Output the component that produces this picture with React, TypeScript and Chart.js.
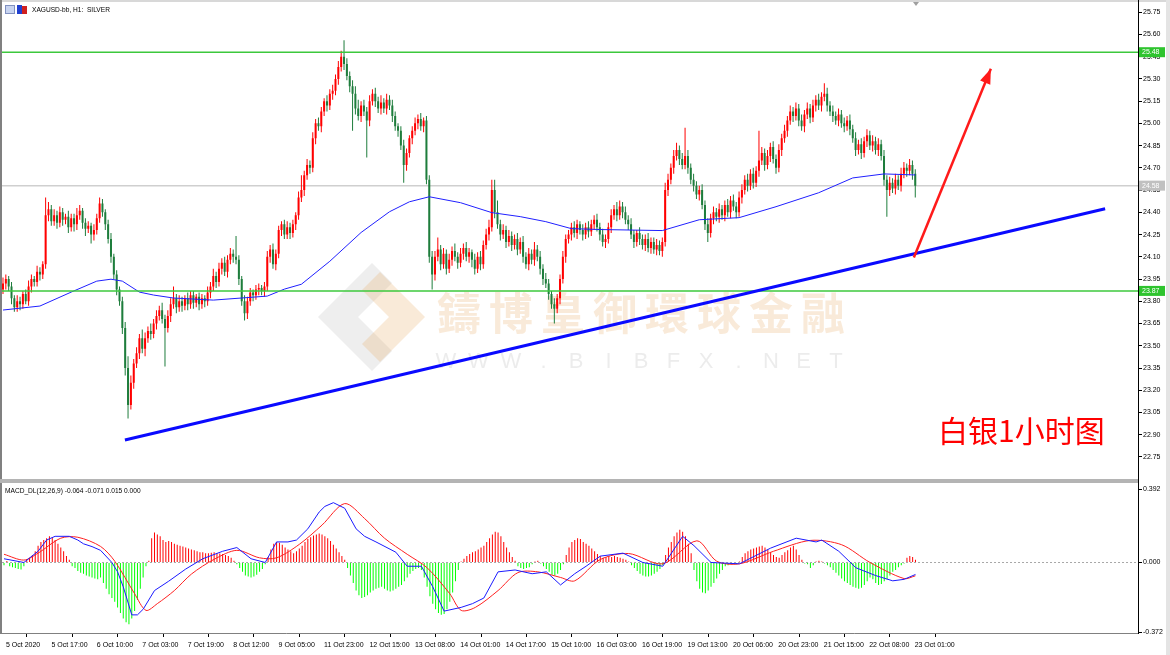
import React, { useEffect, useRef } from 'react';
import { Chart, registerables } from 'chart.js';

Chart.register(...registerables);

const FONT = '"Liberation Sans", Arial, sans-serif';

// ---------- axis ranges (bar index on x, price on y) ----------
const X_MIN = -0.7;
const X_MAX = 399.37;
const PRICE_MIN = 22.623;
const PRICE_MAX = 25.797;
const MACD_MIN = -0.377;
const MACD_MAX = 0.408;

// ---------- labels ----------
const priceTicks = [22.75, 22.9, 23.05, 23.2, 23.35, 23.5, 23.65, 23.8, 23.95, 24.1, 24.25, 24.4, 24.55, 24.7, 24.85, 25.0, 25.15, 25.3, 25.45, 25.6, 25.75];
const macdTicks = [0.392, 0, -0.372];
const timeTickBars = [0, 16, 32, 48, 64, 80, 96, 112, 128, 144, 160, 176, 192, 208, 224, 240, 256, 272, 288, 304, 320];
const timeLabels = ['5 Oct 2020', '5 Oct 17:00', '6 Oct 10:00', '7 Oct 03:00', '7 Oct 19:00', '8 Oct 12:00', '9 Oct 05:00', '11 Oct 23:00', '12 Oct 15:00', '13 Oct 08:00', '14 Oct 01:00', '14 Oct 17:00', '15 Oct 10:00', '16 Oct 03:00', '16 Oct 19:00', '19 Oct 13:00', '20 Oct 06:00', '20 Oct 23:00', '21 Oct 15:00', '22 Oct 08:00', '23 Oct 01:00'];

// ---------- price data (H1 candles) ----------
const FIRST_OPEN = 23.88;
const closes = [
  23.92, 23.95, 23.90, 23.82, 23.76, 23.80, 23.78, 23.85, 23.80, 23.90,
  23.95, 23.93, 24.00, 23.98, 24.05, 24.38, 24.42, 24.34, 24.38, 24.33,
  24.40, 24.35, 24.37, 24.30, 24.36, 24.32, 24.38, 24.41, 24.33, 24.29,
  24.31, 24.25, 24.28, 24.36, 24.46, 24.40, 24.32, 24.22, 24.10, 23.98,
  23.88, 23.80, 23.62, 23.35, 23.10, 23.25, 23.38, 23.45, 23.55, 23.48,
  23.55, 23.60, 23.58, 23.65, 23.70, 23.74, 23.68, 23.62, 23.70, 23.78,
  23.82, 23.76, 23.80, 23.77, 23.82, 23.78, 23.84, 23.79, 23.83, 23.78,
  23.82, 23.80, 23.86, 23.90, 23.97, 23.93, 24.02, 24.06, 24.00, 24.08,
  24.12, 24.10, 24.08, 23.95, 23.80, 23.72, 23.80, 23.86, 23.84, 23.88,
  23.89, 23.87, 23.90, 24.10, 24.15, 24.05, 24.12, 24.28, 24.32, 24.25,
  24.30, 24.26, 24.32, 24.38, 24.50, 24.55, 24.65, 24.72, 24.70, 24.90,
  25.00, 24.98, 25.08, 25.15, 25.12, 25.20, 25.22, 25.30, 25.38, 25.45,
  25.40, 25.32, 25.25, 25.20, 25.10, 25.05, 25.12, 25.08, 25.02, 25.15,
  25.20, 25.15, 25.10, 25.14, 25.10, 25.16, 25.12, 25.05, 24.98, 24.95,
  24.85, 24.72, 24.80, 24.90, 24.95, 25.00, 25.03, 24.98, 25.02, 24.62,
  24.10, 23.98, 24.10, 24.15, 24.05, 24.12, 24.02, 24.08, 24.14, 24.10,
  24.06, 24.12, 24.16, 24.10, 24.13, 24.08, 24.02, 24.10, 24.05, 24.18,
  24.25, 24.30, 24.55, 24.40, 24.32, 24.25, 24.28, 24.20, 24.24, 24.18,
  24.22, 24.15, 24.20, 24.10, 24.05, 24.12, 24.08, 24.15, 24.10, 24.02,
  23.95, 23.92, 23.85, 23.78, 23.75, 23.82, 23.95, 24.10, 24.22, 24.25,
  24.30, 24.26, 24.32, 24.28, 24.25, 24.30, 24.27, 24.32, 24.35, 24.30,
  24.25, 24.20, 24.22, 24.30, 24.38, 24.42, 24.38, 24.44, 24.40, 24.35,
  24.32, 24.25, 24.20, 24.26, 24.22, 24.18, 24.22, 24.16, 24.20, 24.15,
  24.18, 24.14, 24.20, 24.55, 24.62, 24.70, 24.78, 24.82, 24.76, 24.72,
  24.78, 24.70, 24.62, 24.58, 24.52, 24.55, 24.45, 24.32, 24.26, 24.36,
  24.40, 24.37, 24.42, 24.38, 24.45, 24.40, 24.48, 24.44, 24.40, 24.50,
  24.55, 24.62, 24.58, 24.66, 24.60, 24.68, 24.75, 24.80, 24.72, 24.78,
  24.84, 24.76, 24.70, 24.82, 24.90, 24.95, 25.02, 25.08, 25.05, 25.10,
  25.02, 24.98, 25.06, 25.10, 25.04, 25.12, 25.16, 25.12, 25.18, 25.20,
  25.12, 25.08, 25.05, 25.02, 25.06, 25.00, 24.98, 25.02, 24.96, 24.90,
  24.82, 24.86, 24.80, 24.88, 24.92, 24.85, 24.88, 24.82, 24.86, 24.78,
  24.62, 24.55, 24.60, 24.56, 24.62, 24.58, 24.66, 24.70, 24.68, 24.72,
  24.66, 24.58,
];
// wick lengths beyond the body, in cents
const upperWick = [
  4, 3, 2, 3, 2, 4, 3, 2, 3, 4, 3, 2, 4, 3, 2, 12, 5, 3, 4, 3,
  4, 3, 2, 4, 3, 3, 5, 4, 2, 3, 3, 2, 4, 3, 4, 3, 2, 3, 4, 2,
  3, 2, 3, 4, 8, 5, 3, 4, 3, 6, 4, 3, 5, 3, 4, 3, 5, 3, 4, 4,
  8, 3, 4, 3, 2, 4, 3, 3, 2, 3, 3, 2, 4, 3, 5, 3, 4, 3, 4, 3,
  4, 3, 14, 3, 2, 4, 3, 3, 2, 3, 3, 2, 3, 4, 3, 4, 3, 3, 2, 3,
  4, 3, 3, 2, 4, 10, 3, 4, 3, 4, 3, 4, 3, 2, 4, 3, 4, 3, 4, 4,
  11, 4, 3, 4, 5, 6, 3, 4, 3, 4, 3, 4, 3, 5, 3, 4, 3, 4, 3, 2,
  3, 4, 3, 2, 3, 4, 3, 4, 2, 3, 3, 4, 4, 8, 3, 4, 3, 4, 3, 5,
  3, 4, 3, 4, 3, 2, 4, 3, 4, 3, 4, 5, 7, 7, 8, 3, 4, 3, 4, 3,
  3, 4, 3, 4, 3, 4, 3, 5, 3, 4, 3, 4, 3, 2, 4, 3, 3, 4, 3, 3,
  3, 4, 3, 2, 4, 3, 4, 3, 3, 4, 3, 4, 3, 3, 4, 3, 5, 4, 3, 4,
  3, 4, 3, 2, 4, 3, 3, 4, 3, 3, 4, 3, 3, 5, 4, 3, 4, 5, 3, 4,
  19, 4, 3, 4, 3, 3, 4, 3, 4, 3, 4, 3, 4, 3, 3, 4, 3, 4, 3, 4,
  4, 3, 4, 3, 4, 3, 20, 4, 3, 4, 3, 4, 3, 4, 3, 4, 3, 4, 3, 4,
  3, 4, 3, 4, 3, 4, 3, 4, 3, 7, 4, 3, 4, 3, 4, 3, 4, 3, 4, 3,
  4, 3, 4, 3, 4, 3, 4, 3, 4, 3, 4, 3, 4, 3, 4, 3, 4, 4, 3, 4,
  3, 3,
];
const lowerWick = [
  3, 4, 3, 4, 3, 3, 4, 3, 2, 3, 4, 3, 3, 4, 3, 3, 4, 3, 3, 4,
  3, 4, 3, 4, 3, 5, 4, 3, 4, 5, 3, 6, 4, 3, 3, 3, 4, 3, 4, 3,
  4, 3, 4, 5, 9, 3, 4, 3, 4, 3, 5, 3, 4, 3, 4, 3, 3, 26, 3, 4,
  3, 4, 3, 4, 3, 4, 3, 4, 3, 4, 3, 4, 3, 4, 3, 4, 3, 4, 3, 4,
  3, 4, 3, 4, 3, 5, 4, 3, 4, 3, 4, 3, 4, 3, 4, 3, 4, 3, 4, 3,
  3, 4, 3, 4, 3, 3, 4, 3, 4, 3, 4, 3, 4, 3, 4, 3, 4, 3, 4, 3,
  4, 3, 4, 25, 4, 3, 4, 3, 25, 4, 3, 4, 3, 4, 3, 4, 3, 4, 3, 4,
  3, 12, 4, 3, 4, 3, 4, 3, 4, 3, 4, 10, 4, 3, 4, 3, 4, 3, 4, 3,
  4, 3, 4, 3, 4, 5, 4, 3, 4, 3, 3, 4, 3, 4, 3, 4, 3, 4, 3, 4,
  3, 4, 3, 4, 3, 4, 3, 4, 3, 4, 4, 3, 4, 3, 10, 3, 4, 3, 4, 3,
  4, 3, 4, 3, 4, 3, 4, 3, 4, 3, 4, 3, 4, 3, 4, 3, 4, 3, 4, 3,
  4, 3, 4, 3, 4, 3, 4, 3, 4, 3, 4, 3, 4, 3, 4, 3, 4, 3, 4, 3,
  3, 4, 3, 4, 3, 4, 3, 4, 6, 3, 4, 3, 4, 3, 4, 3, 4, 3, 4, 3,
  4, 3, 4, 3, 4, 3, 4, 3, 4, 3, 4, 3, 4, 3, 4, 3, 4, 3, 4, 3,
  4, 3, 4, 3, 4, 3, 4, 3, 4, 3, 4, 3, 4, 3, 4, 3, 4, 3, 4, 3,
  4, 3, 4, 3, 4, 3, 4, 3, 4, 3, 4, 18, 4, 3, 4, 3, 4, 3, 4, 3,
  4, 8,
];

// moving average (blue line), read at sample bars
const maBars = [0, 13, 24, 33, 38, 42, 48, 53, 60, 74, 93, 99, 105, 115, 126, 136, 143, 150, 161, 172, 182, 191, 200, 210, 232, 245, 259, 272, 287, 299, 310, 321];
const maValues = [23.741, 23.768, 23.862, 23.936, 23.949, 23.936, 23.862, 23.842, 23.822, 23.808, 23.835, 23.882, 23.915, 24.07, 24.264, 24.404, 24.471, 24.505, 24.465, 24.398, 24.371, 24.337, 24.29, 24.284, 24.277, 24.35, 24.364, 24.438, 24.532, 24.632, 24.659, 24.652];

// horizontal levels and drawn objects
const levelPrices = [25.48, 23.87];
const bidPrice = 24.58;
const trendBars = [42.9, 387.8];
const trendPrices = [22.864, 24.424];
const arrowBars = [320.5, 347.6];
const arrowPrices = [24.096, 25.368];

// ---------- MACD panel ----------
// histogram, thousandths
const macdHist = [
  -15, 8, -20, -25, -30, -35, -38, -20, 15, 25,
  40, 60, 90, 110, 120, 130, 140, 135, 120, 100,
  80, 60, 35, 15, -20, -30, -45, -55, -60, -70,
  -75, -80, -85, -90, -80, -110, -140, -170, -190, -210,
  -240, -270, -300, -320, -330, -300, -260, -200, -140, -80,
  -20, 10, 130, 160, 150, 140, 120, 110, 115, 110,
  100, 95, 90, 85, 80, 75, 70, 65, 60, 55,
  55, 50, 50, 52, 55, 50, 48, 45, 40, 35,
  25, 10, -10, -30, -50, -70, -75, -80, -75, -65,
  -50, -35, -10, 30, 70, 100, 110, 105, 95, 80,
  70, 60, 50, 60, 75, 90, 110, 125, 135, 145,
  150, 155, 150, 140, 130, 115, 95, 75, 55, 35,
  15, -30, -70, -110, -150, -175, -190, -185, -175, -160,
  -150, -140, -135, -130, -140, -150, -155, -150, -140, -130,
  -120, -100, -80, -60, -45, -35, -30, -40, -80, -130,
  -180, -220, -250, -270, -280, -275, -250, -210, -160, -100,
  -40, 5, 20, 35, 45, 55, 60, 70, 80, 90,
  110, 130, 150, 165, 160, 140, 110, 80, 55, 30,
  10, -20, -30, -35, -30, -25, -10, 5, 10, -5,
  -20, -35, -50, -65, -70, -60, -40, -10, 40, 80,
  110, 120, 130, 125, 110, 100, 90, 75, 60, 45,
  35, 25, 30, 35, 30, 35, 30, 25, 20, 15,
  5, -15, -30, -45, -60, -70, -75, -75, -70, -60,
  -50, -35, -15, 40, 80, 110, 140, 160, 175, 165,
  140, 100, 50, -40, -100, -140, -160, -165, -150, -130,
  -110, -85, -60, -40, -20, -15, -10, -5, -10, 5,
  30, 50, 60, 70, 75, 80, 85, 90, 80, 70,
  55, 40, 30, 25, 40, 55, 65, 80, 90, 70,
  40, 15, -5, -10, -30, -15, 5, 10, 5, -5,
  -15, -25, -40, -55, -70, -85, -100, -110, -120, -130,
  -135, -140, -135, -120, -100, -80, -90, -110, -120, -115,
  -100, -90, -70, -50, -40, -25, -15, -5, 25, 35,
  30, 15,
];
const macdBars = [0, 7, 12, 15, 18, 23, 26, 28, 31, 34, 38, 40, 42, 45, 47, 49, 53, 58, 64, 70, 77, 82, 87, 92, 96, 100, 103, 107, 111, 113, 116, 120, 124, 127, 131, 138, 142, 147, 151, 155, 161, 165, 169, 174, 180, 186, 191, 196, 201, 205, 210, 218, 225, 232, 239, 243, 249, 259, 270, 279, 286, 288, 294, 300, 307, 313, 317, 321];
const macdValues = [0.02, 0.0, 0.06, 0.12, 0.14, 0.14, 0.12, 0.10, 0.085, 0.065, 0.0, -0.05, -0.13, -0.28, -0.28, -0.25, -0.15, -0.10, -0.035, 0.02, 0.06, 0.08, 0.02, 0.0, 0.11, 0.11, 0.12, 0.18, 0.27, 0.30, 0.32, 0.29, 0.18, 0.14, 0.11, 0.055, -0.02, -0.02, -0.13, -0.26, -0.24, -0.22, -0.19, -0.05, -0.04, -0.06, -0.05, -0.12, -0.06, -0.02, 0.034, 0.05, 0.0, -0.02, 0.14, 0.09, 0.0, -0.007, 0.077, 0.13, 0.11, 0.12, 0.06, -0.028, -0.07, -0.098, -0.09, -0.064];
const signalBars = [0, 7, 12, 20, 26, 34, 39, 46, 50, 54, 60, 66, 74, 82, 90, 96, 104, 112, 120, 127, 134, 142, 149, 157, 161, 166, 174, 181, 188, 196, 201, 210, 220, 232, 244, 251, 259, 271, 284, 295, 305, 317, 321];
const signalValues = [0.044, 0.013, 0.05, 0.13, 0.135, 0.086, 0.007, -0.167, -0.256, -0.22, -0.15, -0.062, 0.017, 0.065, 0.025, 0.025, 0.097, 0.2, 0.315, 0.235, 0.13, 0.044, -0.028, -0.167, -0.256, -0.24, -0.15, -0.054, -0.05, -0.08, -0.098, 0.016, 0.048, -0.007, 0.116, 0.007, -0.007, 0.06, 0.118, 0.095, 0.0, -0.086, -0.071];

const BULL = '#ff0000';
const BEAR = '#1e7d3c';
const LEVEL_GREEN = '#3cc83c';

const opens = closes.map((c, i) => (i === 0 ? FIRST_OPEN : closes[i - 1]));
const highs = closes.map((c, i) => Math.max(opens[i], c) + upperWick[i] / 100);
const lows = closes.map((c, i) => Math.min(opens[i], c) - lowerWick[i] / 100);
const candleColors = closes.map((c, i) => (c >= opens[i] ? BULL : BEAR));

const watermarkPlugin = {
  id: 'watermark',
  beforeDatasetsDraw(chart: any) {
    const ctx = chart.ctx;
    ctx.save();
    // logo
    ctx.fillStyle = 'rgba(160,160,160,0.18)';
    ctx.beginPath();
    ctx.moveTo(318, 317); ctx.lineTo(372, 263); ctx.lineTo(392, 283); ctx.lineTo(358, 317);
    ctx.lineTo(392, 351); ctx.lineTo(372, 371); ctx.closePath(); ctx.fill();
    ctx.fillStyle = 'rgba(232,170,100,0.25)';
    ctx.beginPath();
    ctx.moveTo(425, 317); ctx.lineTo(380, 272); ctx.lineTo(362, 290); ctx.lineTo(389, 317);
    ctx.lineTo(362, 344); ctx.lineTo(380, 362); ctx.closePath(); ctx.fill();
    // company name
    ctx.fillStyle = 'rgba(232,178,120,0.28)';
    ctx.font = 'bold 44px "Noto Sans CJK TC", "Noto Sans CJK SC", sans-serif';
    ctx.textBaseline = 'middle';
    ctx.textAlign = 'left';
    const name = '鑄博皇御環球金融';
    for (let k = 0; k < name.length; k++) ctx.fillText(name[k], 437 + 52 * k, 313);
    ctx.fillStyle = 'rgba(150,150,150,0.18)';
    ctx.font = '22px "Liberation Sans", Arial, sans-serif';
    ctx.textAlign = 'center';
    const web = 'WWW.BIBFX.NET';
    for (let k = 0; k < web.length; k++) ctx.fillText(web[k], 446 + 32.5 * k, 362);
    ctx.restore();
  },
};

const arrowHeadPlugin = {
  id: 'arrowHead',
  afterDatasetsDraw(chart: any) {
    const idx = chart.data.datasets.findIndex((d: any) => d.label === 'arrow');
    if (idx < 0) return;
    const meta = chart.getDatasetMeta(idx);
    const a = meta.data[0];
    const b = meta.data[1];
    const ang = Math.atan2(b.y - a.y, b.x - a.x);
    const len = 15;
    const half = 5.5;
    const ctx = chart.ctx;
    ctx.save();
    ctx.fillStyle = '#ff1a1a';
    ctx.beginPath();
    ctx.moveTo(b.x, b.y);
    ctx.lineTo(b.x - len * Math.cos(ang) + half * Math.sin(ang), b.y - len * Math.sin(ang) - half * Math.cos(ang));
    ctx.lineTo(b.x - len * Math.cos(ang) - half * Math.sin(ang), b.y - len * Math.sin(ang) + half * Math.cos(ang));
    ctx.closePath();
    ctx.fill();
    ctx.restore();
  },
};

const priceTagPlugin = {
  id: 'priceTags',
  afterDraw(chart: any) {
    const y = chart.scales.y;
    const ctx = chart.ctx;
    const right = chart.chartArea.right;
    const tags = [
      { v: levelPrices[0], bg: '#2ec42e' },
      { v: levelPrices[1], bg: '#2ec42e' },
      { v: bidPrice, bg: '#c0c0c0' },
    ];
    ctx.save();
    ctx.font = `7px ${FONT}`;
    ctx.textBaseline = 'middle';
    ctx.textAlign = 'left';
    tags.forEach((t) => {
      const py = y.getPixelForValue(t.v);
      ctx.fillStyle = t.bg;
      ctx.fillRect(right + 1, py - 5, 26, 10);
      ctx.fillStyle = '#ffffff';
      ctx.fillText(t.v.toFixed(2), right + 4, py);
    });
    ctx.restore();
  },
};

function hLine(v: number, color: string, width: number, order: number, dash: number[] = []) {
  return {
    type: 'line',
    label: 'level',
    data: [{ x: X_MIN, y: v }, { x: X_MAX, y: v }],
    borderColor: color,
    borderWidth: width,
    borderDash: dash,
    pointRadius: 0,
    order,
  };
}

export default function App() {
  const mainRef = useRef<HTMLCanvasElement>(null);
  const macdRef = useRef<HTMLCanvasElement>(null);

  useEffect(() => {
    const main = new Chart(mainRef.current as HTMLCanvasElement, {
      type: 'bar',
      data: {
        datasets: [
          {
            type: 'line', label: 'arrow',
            data: arrowBars.map((x, k) => ({ x, y: arrowPrices[k] })),
            borderColor: '#ff1a1a', borderWidth: 2.5, pointRadius: 0, order: 0,
          },
          {
            type: 'line', label: 'trend',
            data: trendBars.map((x, k) => ({ x, y: trendPrices[k] })),
            borderColor: '#0a0aff', borderWidth: 3, pointRadius: 0, order: 1,
          },
          hLine(levelPrices[0], LEVEL_GREEN, 1.5, 2),
          hLine(levelPrices[1], LEVEL_GREEN, 1.5, 3),
          {
            type: 'line', label: 'ma',
            data: maBars.map((x, k) => ({ x, y: maValues[k] })),
            borderColor: '#2020ff', borderWidth: 1, pointRadius: 0, order: 5,
          },
          {
            type: 'bar', label: 'body',
            data: closes.map((c, i) => ({ x: i, y: [opens[i], c] })),
            backgroundColor: candleColors, barThickness: 2, minBarLength: 1,
            grouped: false, inflateAmount: 0, borderWidth: 0, order: 6,
          },
          {
            type: 'bar', label: 'wick',
            data: closes.map((c, i) => ({ x: i, y: [lows[i], highs[i]] })),
            backgroundColor: candleColors, barThickness: 1,
            grouped: false, inflateAmount: 0, borderWidth: 0, order: 7,
          },
          hLine(bidPrice, '#cfcfcf', 1.5, 8),
        ] as any,
      },
      options: {
        responsive: false,
        animation: false,
        events: [],
        layout: { padding: { left: 1, top: 4, right: 0, bottom: 3 } },
        plugins: { legend: { display: false }, tooltip: { enabled: false } },
        scales: {
          x: { type: 'linear', min: X_MIN, max: X_MAX, display: false, offset: false },
          y: {
            type: 'linear', position: 'right', min: PRICE_MIN, max: PRICE_MAX,
            afterBuildTicks: (s: any) => { s.ticks = priceTicks.map((v) => ({ value: v })); },
            afterFit: (s: any) => { s.width = 32; },
            ticks: {
              autoSkip: false, color: '#000', padding: 1,
              font: { family: FONT, size: 7 },
              callback: (v: any) => Number(v).toFixed(2),
            },
            grid: { drawOnChartArea: false, tickLength: 4, color: '#000' },
            border: { color: '#000' },
          },
        },
      } as any,
      plugins: [watermarkPlugin, arrowHeadPlugin, priceTagPlugin],
    });

    const macd = new Chart(macdRef.current as HTMLCanvasElement, {
      type: 'bar',
      data: {
        datasets: [
          {
            type: 'line', label: 'macd',
            data: macdBars.map((x, k) => ({ x, y: macdValues[k] })),
            borderColor: '#1a1aff', borderWidth: 1, pointRadius: 0, order: 1,
          },
          {
            type: 'line', label: 'signal',
            data: signalBars.map((x, k) => ({ x, y: signalValues[k] })),
            borderColor: '#ff2020', borderWidth: 1, pointRadius: 0, order: 2, tension: 0.3,
          },
          {
            type: 'bar', label: 'hist',
            data: macdHist.map((v, i) => ({ x: i, y: v / 1000 })),
            backgroundColor: macdHist.map((v) => (v >= 0 ? '#ff0000' : '#00ff00')),
            barThickness: 1, inflateAmount: 0, borderWidth: 0, grouped: false, order: 3,
          },
          hLine(0, '#a8a8a8', 1, 4, [2, 2]),
        ] as any,
      },
      options: {
        responsive: false,
        animation: false,
        events: [],
        layout: { padding: { left: 1, top: 3, right: 0, bottom: 0 } },
        plugins: { legend: { display: false }, tooltip: { enabled: false } },
        scales: {
          x: {
            type: 'linear', min: X_MIN, max: X_MAX, offset: false,
            afterBuildTicks: (s: any) => { s.ticks = timeTickBars.map((v) => ({ value: v })); },
            afterFit: (s: any) => { s.height = 22; },
            ticks: {
              autoSkip: false, maxRotation: 0, minRotation: 0, align: 'start',
              labelOffset: 2, padding: 4, color: '#000',
              font: { family: FONT, size: 7 },
              callback: (_v: any, idx: number) => timeLabels[idx],
            },
            grid: { drawOnChartArea: false, tickLength: 4, color: '#000' },
            border: { color: '#808080' },
          },
          y: {
            type: 'linear', position: 'right', min: MACD_MIN, max: MACD_MAX,
            afterBuildTicks: (s: any) => { s.ticks = macdTicks.map((v) => ({ value: v })); },
            afterFit: (s: any) => { s.width = 32; },
            ticks: {
              autoSkip: false, color: '#000', padding: 1,
              font: { family: FONT, size: 7 },
              callback: (v: any) => Number(v).toFixed(3),
            },
            grid: { drawOnChartArea: false, tickLength: 4, color: '#000' },
            border: { color: '#000' },
          },
        },
      } as any,
    });

    return () => {
      main.destroy();
      macd.destroy();
    };
  }, []);

  const small: React.CSSProperties = { position: 'absolute', fontFamily: FONT, fontSize: 7, color: '#000', whiteSpace: 'nowrap', lineHeight: '9px' };

  return (
    <div style={{ position: 'fixed', left: 0, top: 0, width: 1170, height: 655, background: '#ffffff', overflow: 'hidden' }}>
      <canvas ref={mainRef} width={1170} height={481} style={{ position: 'absolute', left: 0, top: 0 }} />
      <canvas ref={macdRef} width={1170} height={174} style={{ position: 'absolute', left: 0, top: 481 }} />
      {/* frame */}
      <div style={{ position: 'absolute', left: 0, top: 0, width: 1170, height: 2, background: '#d8d8d8' }} />
      <div style={{ position: 'absolute', left: 0, top: 0, width: 2, height: 634, background: '#808080' }} />
      <div style={{ position: 'absolute', left: 1138, top: 0, width: 1, height: 634, background: '#000' }} />
      <div style={{ position: 'absolute', left: 0, top: 479, width: 1138, height: 4, background: '#b4b4b4' }} />
      <div style={{ position: 'absolute', left: 1166, top: 0, width: 4, height: 655, background: '#e4e4e4' }} />
      {/* header icons and text */}
      <div style={{ position: 'absolute', left: 5, top: 5, width: 10, height: 9, background: '#c8d4f0', border: '1px solid #8090c0', boxSizing: 'border-box' }} />
      <div style={{ position: 'absolute', left: 17, top: 5, width: 5, height: 9, background: '#2040d0' }} />
      <div style={{ position: 'absolute', left: 22, top: 6, width: 5, height: 8, background: '#d02020' }} />
      <div style={{ ...small, left: 32, top: 5, fontSize: 6.6 }}>XAGUSD-bb, H1:&nbsp; SILVER</div>
      <div style={{ position: 'absolute', left: 913, top: 2, width: 0, height: 0, borderLeft: '3px solid transparent', borderRight: '3px solid transparent', borderTop: '4px solid #a0a0a0' }} />
      <div style={{ ...small, left: 5, top: 486, fontSize: 6.6 }}>MACD_DL(12,26,9) -0.064 -0.071 0.015 0.000</div>
      {/* caption */}
      <div style={{ position: 'absolute', left: 938, top: 413, fontFamily: '"Noto Sans CJK SC", sans-serif', fontSize: 30, lineHeight: '32px', color: '#ff0000', whiteSpace: 'nowrap' }}>白银1小时图</div>
    </div>
  );
}
